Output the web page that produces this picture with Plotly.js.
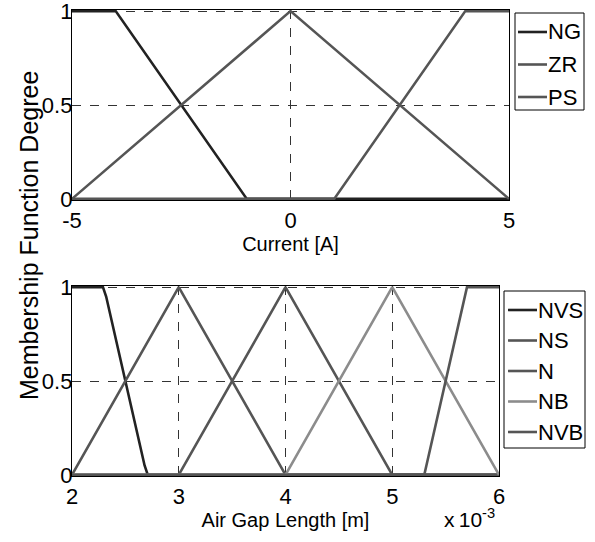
<!DOCTYPE html>
<html>
<head>
<meta charset="utf-8">
<script src="https://cdn.plot.ly/plotly-3.0.1.min.js"></script>
<style>html,body{margin:0;padding:0;background:#fff;}#plot{width:595px;height:542px;}</style>
</head>
<body>
<div id="plot"></div>
<script>
// ---- Top plot: Current [A] ----
var ngX = [-5, -4, -1, 5];
var ngY = [1, 1, 0, 0];
var zrX = [-5, 0, 5];
var zrY = [0, 1, 0];
var psX = [-5, 1, 4, 5];
var psY = [0, 0, 1, 1];
var currentNames = ['NG', 'ZR', 'PS'];
var currentTicks = [-5, 0, 5];
var currentTickText = ['-5', '0', '5'];

// ---- Bottom plot: Air Gap Length [m] (x 10^-3) ----
var nvsX = [2, 2.29, 2.32, 2.5, 2.68, 2.71, 6];
var nvsY = [1, 1, 0.95, 0.5, 0.05, 0, 0];
var nsX = [2, 3, 4, 6];
var nsY = [0, 1, 0, 0];
var nX = [2, 3, 4, 5, 6];
var nY = [0, 0, 1, 0, 0];
var nbX = [2, 4, 5, 6];
var nbY = [0, 0, 1, 0];
var nvbX = [2, 5.3, 5.32, 5.5, 5.68, 5.7, 6];
var nvbY = [0, 0, 0.05, 0.5, 0.95, 1, 1];
var gapNames = ['NVS', 'NS', 'N', 'NB', 'NVB'];
var gapTicks = [2, 3, 4, 5, 6];
var gapTickText = ['2', '3', '4', '5', '6'];

var degreeTicks = [0, 0.5, 1];
var degreeTickText = ['0', '0.5', '1'];

var FONT = 'Liberation Sans, Arial, sans-serif';
var dark = '#222222', mid = '#555555', light = '#8c8c8c';
var currentColors = [dark, mid, mid];
var gapColors = [dark, mid, mid, light, mid];

function tr(x, y, name, color, xa, ya) {
  return {x: x, y: y, name: name, type: 'scatter', mode: 'lines',
    line: {color: color, width: 2.6}, xaxis: xa, yaxis: ya, hoverinfo: 'skip', showlegend: false};
}

var data = [
  tr(ngX, ngY, currentNames[0], currentColors[0], 'x', 'y'),
  tr(zrX, zrY, currentNames[1], currentColors[1], 'x', 'y'),
  tr(psX, psY, currentNames[2], currentColors[2], 'x', 'y'),
  tr(nvsX, nvsY, gapNames[0], gapColors[0], 'x2', 'y2'),
  tr(nsX, nsY, gapNames[1], gapColors[1], 'x2', 'y2'),
  tr(nX, nY, gapNames[2], gapColors[2], 'x2', 'y2'),
  tr(nbX, nbY, gapNames[3], gapColors[3], 'x2', 'y2'),
  tr(nvbX, nvbY, gapNames[4], gapColors[4], 'x2', 'y2')
];

// plot-area pixel frame (margins) to convert legend pixel layout into paper coords
var ML = 72, MR = 86, MT = 10, MB = 66, W = 595, H = 542;
var PW = W - ML - MR, PH = H - MT - MB;
function px(x) { return (x - ML) / PW; }
function py(y) { return (H - MB - y) / PH; }

var shapes = [], annotations = [];
function legendBox(names, colors, box, lineX0, lineX1, textX, y0, dy) {
  shapes.push({type: 'rect', xref: 'paper', yref: 'paper', x0: px(box[0]), x1: px(box[1]),
    y0: py(box[2]), y1: py(box[3]), line: {color: '#000', width: 1}, fillcolor: '#fff', layer: 'above'});
  for (var i = 0; i < names.length; i++) {
    var yy = y0 + i * dy;
    shapes.push({type: 'line', xref: 'paper', yref: 'paper', x0: px(lineX0), x1: px(lineX1),
      y0: py(yy), y1: py(yy), line: {color: colors[i], width: 2.6}, layer: 'above'});
    annotations.push({text: names[i], xref: 'paper', yref: 'paper', x: px(textX), y: py(yy),
      xanchor: 'left', yanchor: 'middle', showarrow: false, xshift: -2,
      font: {family: FONT, size: 22, color: '#000'}});
  }
}
legendBox(currentNames, currentColors, [515, 584, 13, 110], 518, 547, 548, 32, 32.5);
legendBox(gapNames, gapColors, [504, 585, 291, 448], 508, 537, 538, 310, 30.5);

annotations.push({text: 'Membership Function Degree', textangle: -90, xref: 'paper', yref: 'paper',
  x: px(29), y: py(236), xanchor: 'center', yanchor: 'middle', showarrow: false,
  font: {family: FONT, size: 25, color: '#000'}});
annotations.push({text: 'x\u200910<sup>-3</sup>', xref: 'paper', yref: 'paper', x: px(497), y: py(518),
  xanchor: 'right', yanchor: 'middle', showarrow: false,
  font: {family: FONT, size: 21, color: '#000'}});

function axisCommon(extra) {
  var a = {showline: true, mirror: true, linecolor: '#000', linewidth: 1.2,
    showgrid: true, gridcolor: '#333', griddash: 'dash', gridwidth: 1,
    zeroline: false, ticks: '', tickfont: {family: FONT, size: 22, color: '#000'},
    ticklabeloverflow: 'allow', fixedrange: true};
  for (var k in extra) a[k] = extra[k];
  return a;
}

var layout = {
  width: W, height: H,
  margin: {l: ML, r: MR, t: MT, b: MB},
  paper_bgcolor: '#fff', plot_bgcolor: '#fff',
  font: {family: FONT, color: '#000'},
  showlegend: false,
  xaxis: axisCommon({domain: [0, 1], range: [-5, 5], tickvals: currentTicks, ticktext: currentTickText, anchor: 'y',
    title: {text: 'Current [A]', font: {family: FONT, size: 20}, standoff: 0}}),
  yaxis: axisCommon({domain: [py(200), 1], range: [-0.006, 1.006], tickvals: degreeTicks, ticktext: degreeTickText, anchor: 'x', ticklabelstandoff: -6}),
  xaxis2: axisCommon({domain: [0, px(499)], range: [2, 6], tickvals: gapTicks, ticktext: gapTickText, anchor: 'y2',
    title: {text: 'Air Gap Length [m]', font: {family: FONT, size: 20}, standoff: 0}}),
  yaxis2: axisCommon({domain: [0, py(286)], range: [-0.006, 1.006], tickvals: degreeTicks, ticktext: degreeTickText, anchor: 'x2', ticklabelstandoff: -6}),
  shapes: shapes,
  annotations: annotations
};

Plotly.newPlot('plot', data, layout, {staticPlot: true, displayModeBar: false});
</script>
</body>
</html>
